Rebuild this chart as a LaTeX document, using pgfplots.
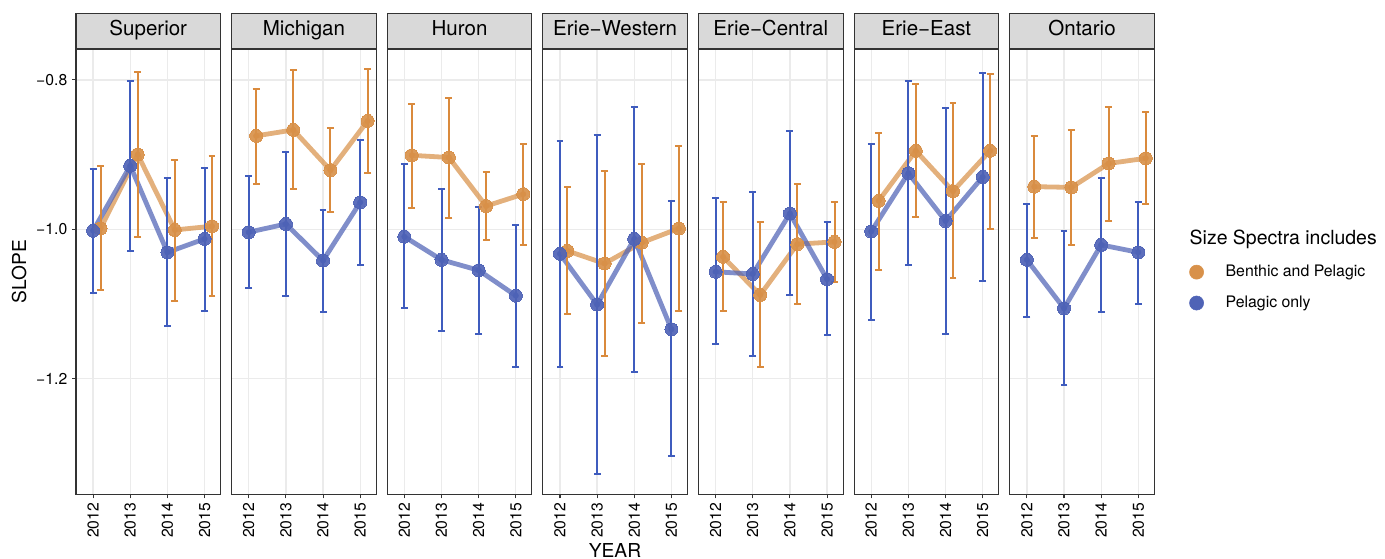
\documentclass[border=0pt]{standalone}
\usepackage{fontspec}
\setmainfont{TeX Gyre Heros}
\usepackage{pgfplots}
\pgfplotsset{compat=1.18}
\usepackage{pgfplotstable}
\definecolor{cO}{HTML}{D8914A}
\definecolor{cB}{HTML}{4F63B6}
\definecolor{eO}{HTML}{DA8A3C}
\definecolor{eB}{HTML}{3F5CBE}
\definecolor{gridc}{HTML}{EBEBEB}
\definecolor{g20}{HTML}{333333}
\definecolor{g85}{HTML}{D9D9D9}

% year, blue (y, lo, hi), orange (y, lo, hi)
\pgfplotstableread{
year yb lb hb yo lo ho
2012 -1.002 -1.085 -0.920 -0.999 -1.081 -0.916
2013 -0.915 -1.029 -0.801 -0.900 -1.011 -0.789
2014 -1.031 -1.129 -0.932 -1.001 -1.096 -0.907
2015 -1.013 -1.109 -0.918 -0.996 -1.089 -0.902
}\tSuperior
\pgfplotstableread{
year yb lb hb yo lo ho
2012 -1.004 -1.079 -0.929 -0.875 -0.939 -0.812
2013 -0.993 -1.089 -0.896 -0.867 -0.946 -0.787
2014 -1.042 -1.111 -0.974 -0.921 -0.977 -0.864
2015 -0.964 -1.048 -0.880 -0.855 -0.925 -0.785
}\tMichigan
\pgfplotstableread{
year yb lb hb yo lo ho
2012 -1.010 -1.105 -0.913 -0.901 -0.971 -0.832
2013 -1.041 -1.137 -0.946 -0.904 -0.985 -0.824
2014 -1.055 -1.140 -0.970 -0.969 -1.014 -0.923
2015 -1.089 -1.184 -0.994 -0.953 -1.021 -0.886
}\tHuron
\pgfplotstableread{
year yb lb hb yo lo ho
2012 -1.033 -1.184 -0.882 -1.029 -1.114 -0.943
2013 -1.101 -1.328 -0.874 -1.046 -1.170 -0.922
2014 -1.013 -1.191 -0.836 -1.018 -1.125 -0.912
2015 -1.134 -1.304 -0.962 -0.999 -1.110 -0.888
}\tWestern
\pgfplotstableread{
year yb lb hb yo lo ho
2012 -1.057 -1.154 -0.958 -1.037 -1.109 -0.964
2013 -1.060 -1.170 -0.950 -1.088 -1.184 -0.991
2014 -0.979 -1.088 -0.869 -1.020 -1.100 -0.939
2015 -1.067 -1.142 -0.991 -1.017 -1.071 -0.964
}\tCentral
\pgfplotstableread{
year yb lb hb yo lo ho
2012 -1.003 -1.121 -0.886 -0.962 -1.054 -0.871
2013 -0.925 -1.048 -0.802 -0.895 -0.984 -0.806
2014 -0.989 -1.140 -0.838 -0.949 -1.066 -0.831
2015 -0.930 -1.070 -0.791 -0.895 -1.000 -0.792
}\tEast
\pgfplotstableread{
year yb lb hb yo lo ho
2012 -1.041 -1.117 -0.966 -0.943 -1.012 -0.875
2013 -1.106 -1.208 -1.003 -0.944 -1.021 -0.867
2014 -1.021 -1.111 -0.932 -0.912 -0.989 -0.836
2015 -1.031 -1.100 -0.963 -0.905 -0.966 -0.843
}\tOntario

\pgfplotsset{
  panel/.style={
    scale only axis, width=108.4pt, height=333.75pt,
    anchor=south west,
    xmin=2011.54, xmax=2015.43, ymin=-1.355, ymax=-0.759,
    xtick={2012,2013,2014,2015}, xticklabels={2012,2013,2014,2015},
    ytick={-1.2,-1.0,-0.8},
    grid=major, major grid style={gridc, line width=1pt},
    axis line style={g20, line width=0.8pt},
    tick style={g20, line width=0.8pt}, tick align=outside, major tick length=3pt,
    xtick pos=bottom, ytick pos=left,
    xticklabel style={rotate=90, anchor=east, font=\fontsize{11.8}{12}\selectfont, text=black},
    yticklabel style={font=\fontsize{11.8}{12}\selectfont, text=black},
    every axis title shift=0pt,
    title style={at={(0.5,1)}, anchor=south, yshift=0pt, draw=g20, fill=g85, line width=0.8pt,
      minimum width=108.4pt, minimum height=26.7pt, inner sep=0pt,
      text height=0.72em, text depth=0pt,
      font=\fontsize{15.4}{16}\selectfont},
    clip=false,
  },
  inner/.style={yticklabels={}, ytick style={draw=none}},
  sline/.style={forget plot, mark=none, line width=3.6pt, opacity=0.72},
  sbar/.style={forget plot, color=#1, only marks, mark=none,
    error bars/.cd, y dir=both, y explicit, error mark=-,
    error bar style={color=#1, line width=1.5pt},
    error mark options={color=#1, line width=1.5pt, mark size=2.6pt, rotate=90}},
  spts/.style={forget plot, only marks, color=#1, mark=*, mark size=4.9pt, opacity=0.92,
    mark options={solid, draw=#1, fill=#1, line width=0pt}},
}

\newcommand{\panel}[4]{%
\begin{axis}[panel, at={(57pt+116.72pt*#1,-370.7pt)}, title={#2}, #4]
  \addplot[sline, cO] table[x expr=\thisrow{year}+0.2, y=yo] {#3};
  \addplot[sline, cB] table[x=year, y=yb] {#3};
  \addplot[sbar=eO] table[x expr=\thisrow{year}+0.2, y=yo,
     y error plus expr=\thisrow{ho}-\thisrow{yo}, y error minus expr=\thisrow{yo}-\thisrow{lo}] {#3};
  \addplot[sbar=eB] table[x=year, y=yb,
     y error plus expr=\thisrow{hb}-\thisrow{yb}, y error minus expr=\thisrow{yb}-\thisrow{lb}] {#3};
  \addplot[spts=cO] table[x expr=\thisrow{year}+0.2, y=yo] {#3};
  \addplot[spts=cB] table[x=year, y=yb] {#3};
\end{axis}}

\begin{document}
\begin{tikzpicture}
\useasboundingbox (0,0) rectangle (1038.75pt,-419.25pt);
\panel{0}{Superior}{\tSuperior}{yticklabels={−1.2,−1.0,−0.8}}
\panel{1}{Michigan}{\tMichigan}{inner}
\panel{2}{Huron}{\tHuron}{inner}
\panel{3}{Erie−Western}{\tWestern}{inner}
\panel{4}{Erie−Central}{\tCentral}{inner}
\panel{5}{Erie−East}{\tEast}{inner}
\begin{axis}[panel, at={(57pt+116.72pt*6,-370.7pt)}, title={Ontario}, inner,
  legend style={at={(1.24,0.521)}, anchor=north west, draw=none, fill=none,
    inner sep=0pt, row sep=9pt, font=\fontsize{11.9}{12}\selectfont,
    legend cell align=left},
  ]
  \addplot[sline, cO] table[x expr=\thisrow{year}+0.2, y=yo] {\tOntario};
  \addplot[sline, cB] table[x=year, y=yb] {\tOntario};
  \addplot[sbar=eO] table[x expr=\thisrow{year}+0.2, y=yo,
     y error plus expr=\thisrow{ho}-\thisrow{yo}, y error minus expr=\thisrow{yo}-\thisrow{lo}] {\tOntario};
  \addplot[sbar=eB] table[x=year, y=yb,
     y error plus expr=\thisrow{hb}-\thisrow{yb}, y error minus expr=\thisrow{yb}-\thisrow{lb}] {\tOntario};
  \addplot[spts=cO] table[x expr=\thisrow{year}+0.2, y=yo] {\tOntario};
  \addplot[spts=cB] table[x=year, y=yb] {\tOntario};
  \addlegendimage{legend image code/.code={\fill[cO] (0.55em,0pt) circle (5.3pt);}}
  \addlegendentry{\hspace{1.2em}Benthic and Pelagic}
  \addlegendimage{legend image code/.code={\fill[cB] (0.55em,0pt) circle (5.3pt);}}
  \addlegendentry{\hspace{1.2em}Pelagic only}
\end{axis}
\node[anchor=base west, font=\fontsize{14.6}{15}\selectfont] at (888.75pt,-183.75pt) {Size Spectra includes};
\node[rotate=90, font=\fontsize{14.4}{15}\selectfont] at (14.3pt,-203.6pt) {SLOPE};
\node[font=\fontsize{14.4}{15}\selectfont] at (461.25pt,-412.9pt) {YEAR};
\end{tikzpicture}
\end{document}
